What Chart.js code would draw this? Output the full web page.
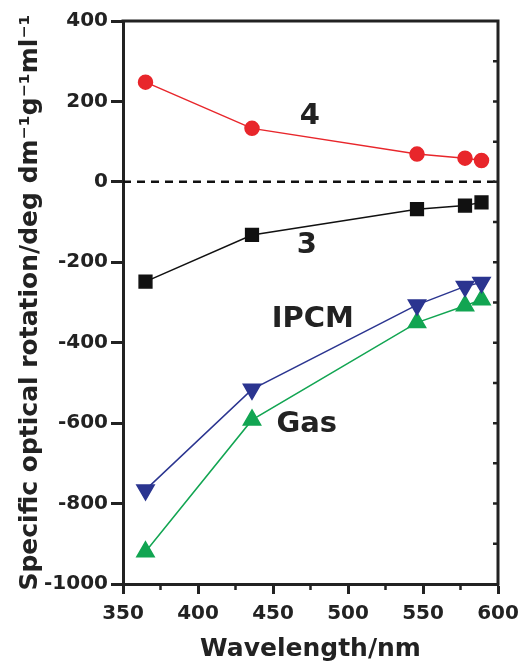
<!DOCTYPE html>
<html>
<head>
<meta charset="utf-8">
<script src="https://cdn.jsdelivr.net/npm/chart.js@4/dist/chart.umd.min.js"></script>
<style>
  html, body { margin: 0; padding: 0; background: #fff; }
  canvas { display: block; }
</style>
</head>
<body>
<canvas id="chart" width="523" height="664"></canvas>
<script>
// Longitudes de onda medidas (nm)
const wavelengths = [365, 436, 546, 578, 589];
// Rotación específica para cada serie
const comp4 = [248, 133, 69, 59, 53];
const comp3 = [-248, -132, -68, -59, -51];
const ipcm = [-766, -516, -306, -260, -250];
const gas = [-920, -592, -350, -308, -293];
const seriesNames = ['4', '3', 'IPCM', 'Gas'];
const xTicks = [350, 400, 450, 500, 550, 600];
const yTicks = [-1000, -800, -600, -400, -200, 0, 200, 400];

const axisColor = '#222';
const fontFam = "'DejaVu Sans', 'Liberation Sans', sans-serif";

function pts(vals) {
    return wavelengths.map((w, i) => ({ x: w, y: vals[i] }));
}

// Etiquetas de texto dentro del gráfico (en coordenadas de datos)
const labelPos = [
    { x: 474.5, y: 162 },
    { x: 472.5, y: -157 },
    { x: 476.5, y: -343 },
    { x: 472.5, y: -604 }
];

const decor = {
    id: 'decor',
    beforeDatasetsDraw(chart) {
        const { ctx, chartArea, scales } = chart;
        const y0 = scales.y.getPixelForValue(0);
        ctx.save();
        ctx.strokeStyle = '#111';
        ctx.lineWidth = 2.5;
        ctx.setLineDash([8, 6]);
        ctx.beginPath();
        ctx.moveTo(chartArea.left, y0);
        ctx.lineTo(chartArea.right, y0);
        ctx.stroke();
        ctx.restore();
    },
    afterDatasetsDraw(chart) {
        const { ctx, scales } = chart;
        ctx.save();
        ctx.fillStyle = axisColor;
        ctx.font = 'bold 29px ' + fontFam;
        ctx.textAlign = 'center';
        ctx.textBaseline = 'middle';
        seriesNames.forEach((name, i) => {
            ctx.fillText(name, scales.x.getPixelForValue(labelPos[i].x), scales.y.getPixelForValue(labelPos[i].y));
        });
        ctx.restore();
    },
    afterDraw(chart) {
        const { ctx, chartArea, scales } = chart;
        ctx.save();
        ctx.strokeStyle = axisColor;
        ctx.lineWidth = 3;
        ctx.lineCap = 'square';
        // marco superior y derecho
        ctx.beginPath();
        ctx.moveTo(chartArea.left, chartArea.top);
        ctx.lineTo(chartArea.right, chartArea.top);
        ctx.lineTo(chartArea.right, chartArea.bottom);
        ctx.stroke();
        ctx.lineCap = 'butt';
        ctx.lineWidth = 2.5;
        ctx.beginPath();
        // marcas menores del eje x
        for (let v = 375; v < 600; v += 50) {
            const px = scales.x.getPixelForValue(v);
            ctx.moveTo(px, chartArea.bottom);
            ctx.lineTo(px, chartArea.bottom + 6);
        }
        // marcas del eje derecho, hacia dentro
        for (let v = -900; v < 400; v += 100) {
            const py = scales.y.getPixelForValue(v);
            ctx.moveTo(chartArea.right, py);
            ctx.lineTo(chartArea.right - 5, py);
        }
        ctx.stroke();
        ctx.restore();
    }
};

const tickFont = { family: fontFam, weight: 'bold', size: 20 };
const titleFont = { family: fontFam, weight: 'bold', size: 25 };

new Chart(document.getElementById('chart'), {
    type: 'line',
    data: {
        datasets: [
            { label: seriesNames[0], data: pts(comp4), borderColor: '#e8262b', backgroundColor: '#e8262b',
              pointStyle: 'circle', pointRadius: 7, borderWidth: 1.5 },
            { label: seriesNames[1], data: pts(comp3), borderColor: '#111', backgroundColor: '#111',
              pointStyle: 'rect', pointRadius: 9, borderWidth: 1.5 },
            { label: seriesNames[2], data: pts(ipcm), borderColor: '#2b3590', backgroundColor: '#2b3590',
              pointStyle: 'triangle', pointRotation: 180, pointRadius: 10, borderWidth: 1.5 },
            { label: seriesNames[3], data: pts(gas), borderColor: '#12a552', backgroundColor: '#12a552',
              pointStyle: 'triangle', pointRadius: 10, borderWidth: 1.5 }
        ]
    },
    options: {
        responsive: false,
        animation: false,
        devicePixelRatio: 1,
        layout: { padding: { left: 0, right: 25, top: 21, bottom: 0 } },
        plugins: { legend: { display: false }, tooltip: { enabled: false } },
        elements: { point: { borderWidth: 0 }, line: { tension: 0 } },
        scales: {
            x: {
                type: 'linear',
                min: 350,
                max: 600,
                afterBuildTicks: s => { s.ticks = xTicks.map(v => ({ value: v })); },
                afterFit: s => { s.height = 80; s.paddingLeft = 0; s.paddingRight = 0; },
                ticks: { color: axisColor, font: tickFont, padding: 8, callback: v => String(v) },
                grid: { drawOnChartArea: false, tickLength: 10, tickWidth: 3, tickColor: axisColor },
                border: { color: axisColor, width: 3 },
                title: { display: true, text: 'Wavelength/nm', color: axisColor, font: titleFont, padding: 0 }
            },
            y: {
                type: 'linear',
                min: -1000,
                max: 400,
                afterBuildTicks: s => { s.ticks = yTicks.map(v => ({ value: v })); },
                afterFit: s => { s.width = 123; s.paddingTop = 0; s.paddingBottom = 0; },
                ticks: { color: axisColor, font: tickFont, padding: 3, callback: v => String(v) },
                grid: { drawOnChartArea: false, tickLength: 12, tickWidth: 3, tickColor: axisColor },
                border: { color: axisColor, width: 3 },
                title: { display: true, text: 'Specific optical rotation/deg dm⁻¹g⁻¹ml⁻¹', color: axisColor,
                         font: titleFont, padding: { top: 15, bottom: 0 } }
            }
        }
    },
    plugins: [decor]
});
</script>
</body>
</html>
